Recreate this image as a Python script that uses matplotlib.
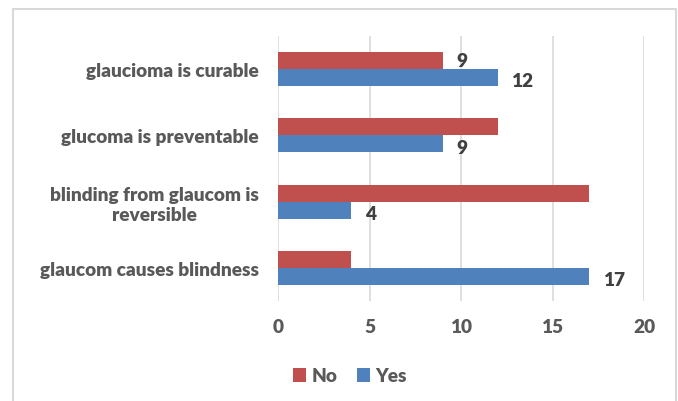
import matplotlib
matplotlib.use("Agg")
import matplotlib.pyplot as plt
import numpy as np
from matplotlib.patches import Rectangle

categories = ["glaucom causes blindness", "blinding from glaucom is\nreversible",
              "glucoma is preventable", "glaucioma is curable"]
no_vals = [4, 17, 12, 9]
yes_vals = [17, 4, 9, 12]
# which bars carry a data label (as in the reference)
no_labeled = [False, False, False, True]
yes_labeled = [True, True, True, True]
xticks = [0, 5, 10, 15, 20]

RED = "#C0504D"
BLUE = "#4F81BD"
TXT = "#404040"
TICK = "#595959"
FS = 13.7
W = 'heavy'

plt.rcParams['font.family'] = ['Lato', 'DejaVu Sans']

fig = plt.figure(figsize=(6.78, 4.02), dpi=100)
ax = fig.add_axes([278/678, 1-302/402, (644-278)/678, (302-37)/402])

y = np.arange(len(categories))
h = 0.257
ax.barh(y + h/2, no_vals, height=h, color=RED, label="No", zorder=3)
ax.barh(y - h/2, yes_vals, height=h, color=BLUE, label="Yes", zorder=3)

for i in range(len(categories)):
    if no_labeled[i]:
        ax.text(no_vals[i] + 0.75, y[i] + h/2, str(no_vals[i]), va='center', ha='left',
                fontsize=FS, fontweight=W, color=TXT)
    if yes_labeled[i]:
        ax.text(yes_vals[i] + 0.75, y[i] - h/2 - 0.05, str(yes_vals[i]), va='center', ha='left',
                fontsize=FS, fontweight=W, color=TXT)

ax.set_xlim(0, 20)
ax.set_ylim(-0.5, 3.5)
ax.set_xticks(xticks)
ax.set_yticks(y)
ax.set_yticklabels(categories, multialignment='center')
ax.tick_params(axis='both', length=0, labelsize=FS, colors=TICK)
ax.tick_params(axis='y', pad=14)
ax.tick_params(axis='x', pad=12)
for lab in ax.get_xticklabels() + ax.get_yticklabels():
    lab.set_fontweight(W)
ax.grid(axis='x', color='#D9D9D9', linewidth=1.2, zorder=0)
for s in ax.spines.values():
    s.set_visible(False)

leg = fig.legend(loc='center', bbox_to_anchor=(350/678, 1-377/402), ncol=2, frameon=False,
                 handlelength=0.7, handleheight=0.7, handletextpad=0.3, columnspacing=1.0,
                 prop={'weight': W, 'size': FS})
for t in leg.get_texts():
    t.set_color(TICK)

fig.patches.append(Rectangle((13/678, -0.02), (676-13)/678, 1.02-10/402,
                             transform=fig.transFigure, fill=False, edgecolor='#D9D9D9', linewidth=1.5))

fig.savefig("out.png", dpi=100)
